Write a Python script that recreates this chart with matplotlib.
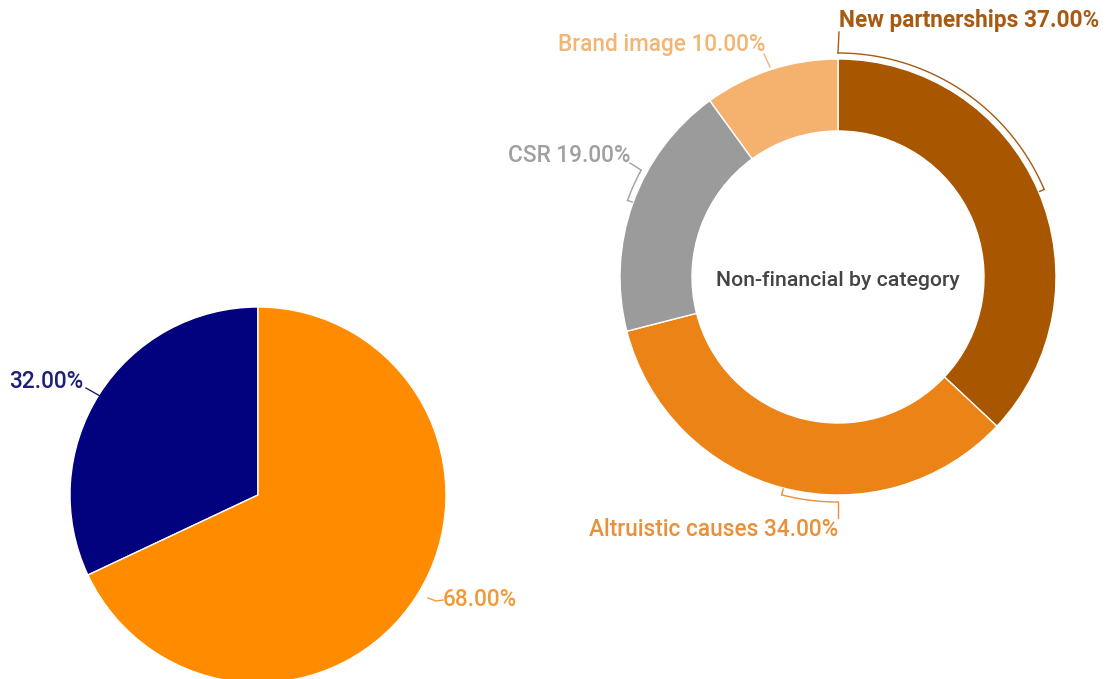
import numpy as np
import matplotlib
matplotlib.use("Agg")
import matplotlib.pyplot as plt

# ---- data ----
overall_labels = ["Non-financial", "Financial"]
overall_values = [32, 68]
overall_colors = ["#02027E", "#FF8C00"]

category_labels = ["New partnerships", "Altruistic causes", "CSR", "Brand image"]
category_values = [37, 34, 19, 10]
category_colors = ["#A85600", "#EC8316", "#9B9B9B", "#F4B26E"]
category_text_colors = ["#A65A12", "#E8903A", "#A0A0A0", "#F2B574"]

center_title = "Non-financial by category"

W, H = 1107, 679
plt.rcParams["font.family"] = ["Roboto", "DejaVu Sans"]

fig = plt.figure(figsize=(W / 100, H / 100), dpi=100)
ax = fig.add_axes([0, 0, 1, 1])


def P(x, y):
    """Pixel position (origin top-left) to data coordinates."""
    return x, H - y


# ---- left pie ----
pie_c = P(258, 495)
pie_r = 188
ax.pie(overall_values, colors=overall_colors, startangle=90, counterclock=True,
       center=pie_c, radius=pie_r, frame=True,
       wedgeprops=dict(edgecolor="white", linewidth=1.0))

# ---- donut ----
don_c = P(838, 277)
don_r = 218
ax.pie(category_values, colors=category_colors, startangle=90, counterclock=False,
       center=don_c, radius=don_r, frame=True,
       wedgeprops=dict(width=72, edgecolor="white", linewidth=1.0))

ax.text(*P(838, 280), center_title, ha="center", va="center",
        fontsize=15.3, color="#444444", fontweight="medium")

ax.set_xlim(0, W)
ax.set_ylim(0, H)
ax.set_aspect("equal")
ax.axis("off")


def arc(c, r, a0, a1, n=60):
    t = np.radians(np.linspace(a0, a1, n))
    return c[0] + r * np.cos(t), c[1] + r * np.sin(t)


def polar(c, r, a):
    t = np.radians(a)
    return c[0] + r * np.cos(t), c[1] + r * np.sin(t)


lw = 1.0
FS = 16.3

# ---- pie labels ----
lab = [f"{v:.2f}%" for v in overall_values]
ax.text(*P(9, 381), lab[0], ha="left", va="center", fontsize=FS,
        color="#1F1F7A", fontweight="medium")
ax.plot(*zip(P(86, 388), P(100, 396)), color="#1F1F7A", lw=lw)

ax.text(*P(443, 600), lab[1], ha="left", va="center", fontsize=FS,
        color="#F29A3A", fontweight="medium")
ax.plot(*zip(P(428, 598), P(436, 601), P(443, 600)), color="#F29A3A", lw=lw)

# ---- donut labels ----
dl = [f"{n} {v:.2f}%" for n, v in zip(category_labels, category_values)]

# New partnerships
col = category_text_colors[0]
ax.text(*P(839, 21), dl[0], ha="left", va="center", fontsize=FS,
        color=col, fontweight="bold")
x, y = arc(don_c, 224, 90, 23)
ax.plot(x, y, color=col, lw=lw)
ax.plot(*zip(P(839, 32), polar(don_c, 224, 90)), color=col, lw=lw)
ax.plot(*zip(polar(don_c, 224, 23), polar(don_c, 219, 23)), color=col, lw=lw)

# Altruistic causes
col = category_text_colors[1]
ax.text(*P(838, 529), dl[1], ha="right", va="center", fontsize=FS,
        color=col, fontweight="medium")
x, y = arc(don_c, 225, 255.5, 270)
ax.plot(x, y, color=col, lw=lw)
ax.plot(*zip(polar(don_c, 225, 270), P(838, 518)), color=col, lw=lw)
ax.plot(*zip(polar(don_c, 225, 255.5), polar(don_c, 219, 255.5)), color=col, lw=lw)

# CSR
col = category_text_colors[2]
ax.text(*P(630, 156), dl[2], ha="right", va="center", fontsize=FS,
        color=col, fontweight="medium")
x, y = arc(don_c, 224, 151.5, 160)
ax.plot(x, y, color=col, lw=lw)
ax.plot(*zip(P(630, 163), polar(don_c, 224, 151.5)), color=col, lw=lw)
ax.plot(*zip(polar(don_c, 224, 160), polar(don_c, 219, 160)), color=col, lw=lw)

# Brand image
col = category_text_colors[3]
ax.text(*P(765, 45), dl[3], ha="right", va="center", fontsize=FS,
        color=col, fontweight="medium")
ax.plot(*zip(P(764, 54), P(770, 67)), color=col, lw=lw)

fig.savefig("out.png", dpi=100, facecolor="white")
